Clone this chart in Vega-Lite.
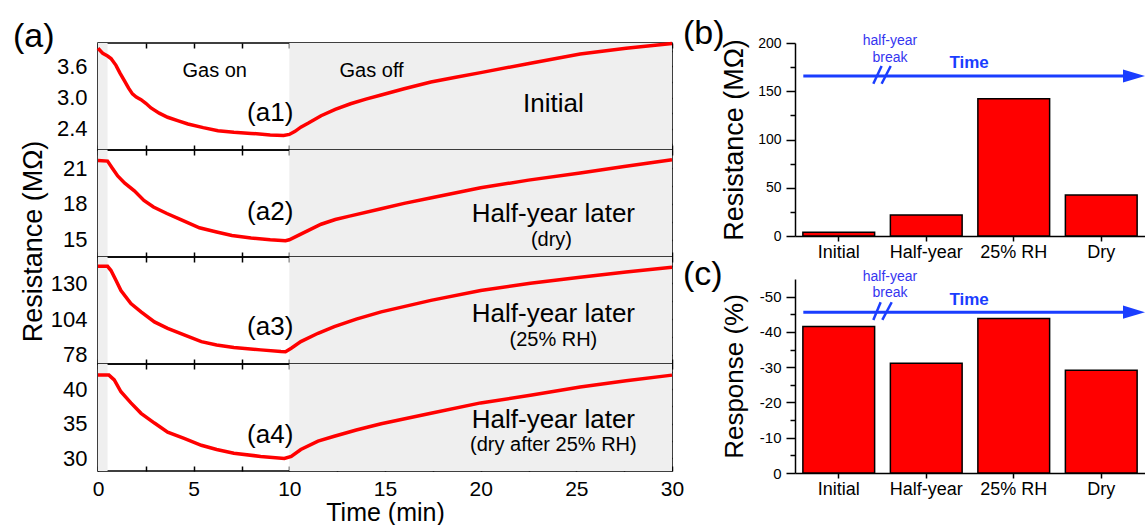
{
  "$schema": "https://vega.github.io/schema/vega-lite/v6.json",
  "background": "white",
  "padding": {"left": 12, "top": 17, "right": 0, "bottom": 0},
  "config": {
    "font": "Liberation Sans",
    "view": {"stroke": "black", "strokeWidth": 1.5},
    "axis": {"grid": false, "labelOverlap": false, "labelColor": "black", "tickColor": "black", "domainColor": "black", "titleColor": "black", "labelFont": "Liberation Sans", "titleFont": "Liberation Sans", "titleFontWeight": "normal", "tickWidth": 1.5, "domainWidth": 1.5},
    "title": {"font": "Liberation Sans", "fontWeight": "normal", "color": "black"}
  },
  "datasets": {
    "curves": [
      {"panel": "a1", "t": 0, "r": 3.95}, {"panel": "a1", "t": 0.25, "r": 3.85}, {"panel": "a1", "t": 0.5, "r": 3.8}, {"panel": "a1", "t": 0.68, "r": 3.75}, {"panel": "a1", "t": 0.94, "r": 3.62}, {"panel": "a1", "t": 1.15, "r": 3.47}, {"panel": "a1", "t": 1.37, "r": 3.33}, {"panel": "a1", "t": 1.6, "r": 3.18}, {"panel": "a1", "t": 1.8, "r": 3.07}, {"panel": "a1", "t": 2.0, "r": 3.01}, {"panel": "a1", "t": 2.25, "r": 2.96}, {"panel": "a1", "t": 2.5, "r": 2.89}, {"panel": "a1", "t": 2.77, "r": 2.8}, {"panel": "a1", "t": 3.2, "r": 2.7}, {"panel": "a1", "t": 3.64, "r": 2.62}, {"panel": "a1", "t": 4.2, "r": 2.55}, {"panel": "a1", "t": 4.7, "r": 2.49}, {"panel": "a1", "t": 5.5, "r": 2.42}, {"panel": "a1", "t": 6.27, "r": 2.36}, {"panel": "a1", "t": 7.1, "r": 2.33}, {"panel": "a1", "t": 8.0, "r": 2.31}, {"panel": "a1", "t": 9.0, "r": 2.28}, {"panel": "a1", "t": 9.7, "r": 2.27}, {"panel": "a1", "t": 10.0, "r": 2.29}, {"panel": "a1", "t": 10.3, "r": 2.35}, {"panel": "a1", "t": 10.6, "r": 2.43}, {"panel": "a1", "t": 11.0, "r": 2.51}, {"panel": "a1", "t": 11.66, "r": 2.65}, {"panel": "a1", "t": 12.4, "r": 2.77}, {"panel": "a1", "t": 13.2, "r": 2.88}, {"panel": "a1", "t": 14.0, "r": 2.97}, {"panel": "a1", "t": 14.8, "r": 3.05}, {"panel": "a1", "t": 16.0, "r": 3.17}, {"panel": "a1", "t": 17.4, "r": 3.3}, {"panel": "a1", "t": 18.7, "r": 3.39}, {"panel": "a1", "t": 20.0, "r": 3.48}, {"panel": "a1", "t": 22.6, "r": 3.66}, {"panel": "a1", "t": 25.2, "r": 3.84}, {"panel": "a1", "t": 27.6, "r": 3.95}, {"panel": "a1", "t": 30.0, "r": 4.04},
      {"panel": "a2", "t": 0, "r": 21.65}, {"panel": "a2", "t": 0.5, "r": 21.6}, {"panel": "a2", "t": 0.75, "r": 21.0}, {"panel": "a2", "t": 1.03, "r": 20.35}, {"panel": "a2", "t": 1.4, "r": 19.75}, {"panel": "a2", "t": 1.9, "r": 19.1}, {"panel": "a2", "t": 2.4, "r": 18.3}, {"panel": "a2", "t": 2.9, "r": 17.75}, {"panel": "a2", "t": 3.6, "r": 17.2}, {"panel": "a2", "t": 4.3, "r": 16.7}, {"panel": "a2", "t": 5.3, "r": 16.0}, {"panel": "a2", "t": 6.2, "r": 15.65}, {"panel": "a2", "t": 7.0, "r": 15.35}, {"panel": "a2", "t": 8.0, "r": 15.15}, {"panel": "a2", "t": 9.0, "r": 15.0}, {"panel": "a2", "t": 9.8, "r": 14.92}, {"panel": "a2", "t": 10.0, "r": 15.0}, {"panel": "a2", "t": 10.6, "r": 15.47}, {"panel": "a2", "t": 11.66, "r": 16.3}, {"panel": "a2", "t": 12.4, "r": 16.7}, {"panel": "a2", "t": 13.2, "r": 17.0}, {"panel": "a2", "t": 14.8, "r": 17.6}, {"panel": "a2", "t": 16.0, "r": 18.05}, {"panel": "a2", "t": 17.5, "r": 18.55}, {"panel": "a2", "t": 20.0, "r": 19.36}, {"panel": "a2", "t": 22.5, "r": 20.0}, {"panel": "a2", "t": 25.2, "r": 20.6}, {"panel": "a2", "t": 27.5, "r": 21.15}, {"panel": "a2", "t": 30.0, "r": 21.72},
      {"panel": "a3", "t": 0, "r": 142.5}, {"panel": "a3", "t": 0.5, "r": 142.5}, {"panel": "a3", "t": 0.68, "r": 139.4}, {"panel": "a3", "t": 0.95, "r": 132}, {"panel": "a3", "t": 1.2, "r": 124.9}, {"panel": "a3", "t": 1.72, "r": 115.3}, {"panel": "a3", "t": 2.25, "r": 109.3}, {"panel": "a3", "t": 2.95, "r": 102}, {"panel": "a3", "t": 3.64, "r": 97.3}, {"panel": "a3", "t": 4.5, "r": 92.5}, {"panel": "a3", "t": 5.4, "r": 87.6}, {"panel": "a3", "t": 6.2, "r": 85.2}, {"panel": "a3", "t": 7.1, "r": 83.3}, {"panel": "a3", "t": 8.5, "r": 81.6}, {"panel": "a3", "t": 9.56, "r": 80.4}, {"panel": "a3", "t": 9.8, "r": 80.3}, {"panel": "a3", "t": 10.1, "r": 82.8}, {"panel": "a3", "t": 10.6, "r": 87.6}, {"panel": "a3", "t": 11.5, "r": 93.7}, {"panel": "a3", "t": 12.35, "r": 98.5}, {"panel": "a3", "t": 13.5, "r": 104}, {"panel": "a3", "t": 14.8, "r": 109.3}, {"panel": "a3", "t": 17.4, "r": 117.7}, {"panel": "a3", "t": 20.0, "r": 124.9}, {"panel": "a3", "t": 22.6, "r": 130.2}, {"panel": "a3", "t": 25.2, "r": 134.5}, {"panel": "a3", "t": 27.6, "r": 138.3}, {"panel": "a3", "t": 30.0, "r": 141.8},
      {"panel": "a4", "t": 0, "r": 42.0}, {"panel": "a4", "t": 0.57, "r": 42.0}, {"panel": "a4", "t": 0.85, "r": 41.3}, {"panel": "a4", "t": 1.2, "r": 39.6}, {"panel": "a4", "t": 1.72, "r": 38.0}, {"panel": "a4", "t": 2.25, "r": 36.5}, {"panel": "a4", "t": 2.95, "r": 35.1}, {"panel": "a4", "t": 3.64, "r": 33.8}, {"panel": "a4", "t": 4.5, "r": 32.9}, {"panel": "a4", "t": 5.4, "r": 31.9}, {"panel": "a4", "t": 6.2, "r": 31.3}, {"panel": "a4", "t": 7.1, "r": 30.75}, {"panel": "a4", "t": 8.5, "r": 30.3}, {"panel": "a4", "t": 9.74, "r": 30.0}, {"panel": "a4", "t": 10.1, "r": 30.3}, {"panel": "a4", "t": 10.6, "r": 31.3}, {"panel": "a4", "t": 11.5, "r": 32.5}, {"panel": "a4", "t": 12.35, "r": 33.2}, {"panel": "a4", "t": 13.5, "r": 34.1}, {"panel": "a4", "t": 14.8, "r": 35.0}, {"panel": "a4", "t": 17.4, "r": 36.5}, {"panel": "a4", "t": 20.0, "r": 38.0}, {"panel": "a4", "t": 22.6, "r": 39.1}, {"panel": "a4", "t": 25.2, "r": 40.3}, {"panel": "a4", "t": 27.6, "r": 41.2}, {"panel": "a4", "t": 30.0, "r": 42.0}
    ],
    "bands": [{"t0": 0, "t1": 0.5}, {"t0": 10, "t1": 30}],
    "bars": [
      {"cat": "Initial", "res": 3.8, "resp": -41.5},
      {"cat": "Half-year", "res": 21.8, "resp": -31.1},
      {"cat": "25% RH", "res": 142.3, "resp": -43.8},
      {"cat": "Dry", "res": 42.5, "resp": -29.1}
    ]
  },
  "spacing": -2,
  "hconcat": [
    {
      "spacing": 0,
      "bounds": "flush",
      "vconcat": [
        {
          "width": 574, "height": 107,
          "title": {"text": "(a)", "anchor": "start", "frame": "group", "fontSize": 34, "offset": 0, "dx": -85, "dy": 17},
          "layer": [
            {"data": {"name": "bands"}, "mark": {"type": "rect", "color": "#efefef"},
             "encoding": {"x": {"field": "t0", "type": "quantitative", "scale": {"domain": [0, 30], "nice": false}, "axis": {"orient": "top", "values": [0, 2.5, 5, 7.5, 10, 12.5, 15, 17.5, 20, 22.5, 25, 27.5, 30], "labels": false, "tickSize": -5, "domain": false, "title": null}}, "x2": {"field": "t1"}}},
            {"data": {"name": "curves"}, "transform": [{"filter": "datum.panel === 'a1'"}], "mark": {"type": "line", "color": "#ff0000", "strokeWidth": 3.5},
             "encoding": {"x": {"field": "t", "type": "quantitative", "scale": {"domain": [0, 30], "nice": false}, "axis": {"orient": "bottom", "values": [0, 2.5, 5, 7.5, 10, 12.5, 15, 17.5, 20, 22.5, 25, 27.5, 30], "labels": false, "tickSize": -5, "domain": false, "title": null}},
                          "y": {"field": "r", "type": "quantitative", "scale": {"domain": [1.99, 4.05], "nice": false, "zero": false}, "axis": {"orient": "left", "values": [2.1, 2.4, 2.7, 3.0, 3.3, 3.6, 3.9], "labelExpr": "indexof(['2.4','3.0','3.6'], format(datum.value, '.1f')) >= 0 ? format(datum.value, '.1f') : ''", "labelOverlap": false, "tickSize": -5, "domain": false, "title": null, "labelFontSize": 22, "labelPadding": 16}}}},
            {"data": {"values": [{"t": 9.0, "r": 2.7, "label": "(a1)"}, {"t": 23.8, "r": 2.88, "label": "Initial"}]}, "mark": {"type": "text", "fontSize": 26, "color": "black", "baseline": "middle"},
             "encoding": {"x": {"field": "t", "type": "quantitative", "axis": null}, "y": {"field": "r", "type": "quantitative", "scale": {"domain": [1.99, 4.05], "nice": false, "zero": false}, "axis": {"orient": "right", "values": [2.1, 2.4, 2.7, 3.0, 3.3, 3.6, 3.9], "labels": false, "tickSize": -5, "domain": false, "title": null}}, "text": {"field": "label"}}},
            {"data": {"values": [{"t": 6.1, "r": 3.52, "label": "Gas on"}, {"t": 14.3, "r": 3.52, "label": "Gas off"}]}, "mark": {"type": "text", "fontSize": 20, "color": "black", "baseline": "middle"},
             "encoding": {"x": {"field": "t", "type": "quantitative", "axis": null}, "y": {"field": "r", "type": "quantitative", "axis": null}, "text": {"field": "label"}}}
          ]
        },
        {
          "width": 574, "height": 107,
          "layer": [
            {"data": {"name": "bands"}, "mark": {"type": "rect", "color": "#efefef"},
             "encoding": {"x": {"field": "t0", "type": "quantitative", "scale": {"domain": [0, 30], "nice": false}, "axis": {"orient": "top", "values": [0, 2.5, 5, 7.5, 10, 12.5, 15, 17.5, 20, 22.5, 25, 27.5, 30], "labels": false, "tickSize": -5, "domain": false, "title": null}}, "x2": {"field": "t1"}}},
            {"data": {"name": "curves"}, "transform": [{"filter": "datum.panel === 'a2'"}], "mark": {"type": "line", "color": "#ff0000", "strokeWidth": 3.5},
             "encoding": {"x": {"field": "t", "type": "quantitative", "scale": {"domain": [0, 30], "nice": false}, "axis": {"orient": "bottom", "values": [0, 2.5, 5, 7.5, 10, 12.5, 15, 17.5, 20, 22.5, 25, 27.5, 30], "labels": false, "tickSize": -5, "domain": false, "title": null}},
                          "y": {"field": "r", "type": "quantitative", "scale": {"domain": [13.55, 22.53], "nice": false, "zero": false}, "axis": {"orient": "left", "values": [15, 16.5, 18, 19.5, 21], "labelExpr": "datum.value % 3 === 0 ? datum.label : ''", "labelOverlap": false, "tickSize": -5, "domain": false, "title": "Resistance (MΩ)", "titleFontSize": 27, "titleX": -51, "titleY": 91, "labelFontSize": 22, "labelPadding": 16}}}},
            {"data": {"values": [{"t": 9.0, "r": 17.33, "label": "(a2)"}, {"t": 23.8, "r": 17.17, "label": "Half-year later"}]}, "mark": {"type": "text", "fontSize": 26, "color": "black", "baseline": "middle"},
             "encoding": {"x": {"field": "t", "type": "quantitative", "axis": null}, "y": {"field": "r", "type": "quantitative", "scale": {"domain": [13.55, 22.53], "nice": false, "zero": false}, "axis": {"orient": "right", "values": [15, 16.5, 18, 19.5, 21], "labels": false, "tickSize": -5, "domain": false, "title": null}}, "text": {"field": "label"}}},
            {"data": {"values": [{"t": 23.7, "r": 15.0, "label": "(dry)"}]}, "mark": {"type": "text", "fontSize": 20, "color": "black", "baseline": "middle"},
             "encoding": {"x": {"field": "t", "type": "quantitative", "axis": null}, "y": {"field": "r", "type": "quantitative", "axis": null}, "text": {"field": "label"}}}
          ]
        },
        {
          "width": 574, "height": 107,
          "layer": [
            {"data": {"name": "bands"}, "mark": {"type": "rect", "color": "#efefef"},
             "encoding": {"x": {"field": "t0", "type": "quantitative", "scale": {"domain": [0, 30], "nice": false}, "axis": {"orient": "top", "values": [0, 2.5, 5, 7.5, 10, 12.5, 15, 17.5, 20, 22.5, 25, 27.5, 30], "labels": false, "tickSize": -5, "domain": false, "title": null}}, "x2": {"field": "t1"}}},
            {"data": {"name": "curves"}, "transform": [{"filter": "datum.panel === 'a3'"}], "mark": {"type": "line", "color": "#ff0000", "strokeWidth": 3.5},
             "encoding": {"x": {"field": "t", "type": "quantitative", "scale": {"domain": [0, 30], "nice": false}, "axis": {"orient": "bottom", "values": [0, 2.5, 5, 7.5, 10, 12.5, 15, 17.5, 20, 22.5, 25, 27.5, 30], "labels": false, "tickSize": -5, "domain": false, "title": null}},
                          "y": {"field": "r", "type": "quantitative", "scale": {"domain": [71.3, 149.3], "nice": false, "zero": false}, "axis": {"orient": "left", "values": [78, 91, 104, 117, 130, 143], "labelExpr": "datum.value % 26 === 0 ? datum.label : ''", "labelOverlap": false, "tickSize": -5, "domain": false, "title": null, "labelFontSize": 22, "labelPadding": 16}}}},
            {"data": {"values": [{"t": 9.0, "r": 98.4, "label": "(a3)"}, {"t": 23.8, "r": 108.1, "label": "Half-year later"}]}, "mark": {"type": "text", "fontSize": 26, "color": "black", "baseline": "middle"},
             "encoding": {"x": {"field": "t", "type": "quantitative", "axis": null}, "y": {"field": "r", "type": "quantitative", "scale": {"domain": [71.3, 149.3], "nice": false, "zero": false}, "axis": {"orient": "right", "values": [78, 91, 104, 117, 130, 143], "labels": false, "tickSize": -5, "domain": false, "title": null}}, "text": {"field": "label"}}},
            {"data": {"values": [{"t": 23.8, "r": 88.8, "label": "(25% RH)"}]}, "mark": {"type": "text", "fontSize": 20, "color": "black", "baseline": "middle"},
             "encoding": {"x": {"field": "t", "type": "quantitative", "axis": null}, "y": {"field": "r", "type": "quantitative", "axis": null}, "text": {"field": "label"}}}
          ]
        },
        {
          "width": 574, "height": 107,
          "layer": [
            {"data": {"name": "bands"}, "mark": {"type": "rect", "color": "#efefef"},
             "encoding": {"x": {"field": "t0", "type": "quantitative", "scale": {"domain": [0, 30], "nice": false}, "axis": {"orient": "top", "values": [0, 2.5, 5, 7.5, 10, 12.5, 15, 17.5, 20, 22.5, 25, 27.5, 30], "labels": false, "tickSize": -5, "domain": false, "title": null}}, "x2": {"field": "t1"}}},
            {"data": {"name": "curves"}, "transform": [{"filter": "datum.panel === 'a4'"}], "mark": {"type": "line", "color": "#ff0000", "strokeWidth": 3.5},
             "encoding": {"x": {"field": "t", "type": "quantitative", "scale": {"domain": [0, 30], "nice": false}, "axis": {"orient": "bottom", "values": [0, 2.5, 5, 7.5, 10, 12.5, 15, 17.5, 20, 22.5, 25, 27.5, 30], "labelExpr": "datum.value % 5 === 0 ? datum.label : ''", "labelOverlap": false, "labelFlush": false, "labelFontSize": 21, "labelPadding": 12, "tickSize": -5, "domain": false, "title": "Time (min)", "titleFontSize": 25, "titleY": 41, "titleBaseline": "middle"}},
                          "y": {"field": "r", "type": "quantitative", "scale": {"domain": [28.2, 43.6], "nice": false, "zero": false}, "axis": {"orient": "left", "values": [30, 32.5, 35, 37.5, 40, 42.5], "labelExpr": "datum.value % 5 === 0 ? datum.label : ''", "labelOverlap": false, "tickSize": -5, "domain": false, "title": null, "labelFontSize": 22, "labelPadding": 16}}}},
            {"data": {"values": [{"t": 9.0, "r": 33.4, "label": "(a4)"}, {"t": 23.8, "r": 35.6, "label": "Half-year later"}]}, "mark": {"type": "text", "fontSize": 26, "color": "black", "baseline": "middle"},
             "encoding": {"x": {"field": "t", "type": "quantitative", "axis": null}, "y": {"field": "r", "type": "quantitative", "scale": {"domain": [28.2, 43.6], "nice": false, "zero": false}, "axis": {"orient": "right", "values": [30, 32.5, 35, 37.5, 40, 42.5], "labels": false, "tickSize": -5, "domain": false, "title": null}}, "text": {"field": "label"}}},
            {"data": {"values": [{"t": 23.8, "r": 32.0, "label": "(dry after 25% RH)"}]}, "mark": {"type": "text", "fontSize": 20, "color": "black", "baseline": "middle"},
             "encoding": {"x": {"field": "t", "type": "quantitative", "axis": null}, "y": {"field": "r", "type": "quantitative", "axis": null}, "text": {"field": "label"}}}
          ]
        }
      ]
    },
    {
      "spacing": 43,
      "bounds": "flush",
      "vconcat": [
        {
          "width": 350, "height": 193,
          "view": {"stroke": null},
          "title": {"text": "(b)", "anchor": "start", "frame": "group", "fontSize": 34, "offset": 0, "dx": -112, "dy": 17},
          "resolve": {"scale": {"x": "independent"}, "axis": {"y": "independent"}},
          "layer": [
            {"data": {"name": "bars"}, "mark": {"type": "bar", "color": "#ff0000", "stroke": "black", "strokeWidth": 1.5},
             "encoding": {"x": {"field": "cat", "type": "nominal", "sort": null, "scale": {"paddingInner": 0.18, "paddingOuter": 0.09}, "axis": {"labelAngle": 0, "labelFontSize": 18, "tickSize": 5, "labelPadding": 2, "title": null}},
                          "y": {"field": "res", "type": "quantitative", "scale": {"domain": [0, 200], "nice": false}, "axis": {"orient": "left", "values": [0, 25, 50, 75, 100, 125, 150, 175, 200], "labelExpr": "datum.value % 50 === 0 ? datum.label : ''", "labelOverlap": false, "labelFontSize": 14, "tickSize": {"condition": {"test": "datum.value % 50 === 0", "value": 9}, "value": 5}, "labelPadding": 5, "title": "Resistance (MΩ)", "titleFontSize": 27, "titleX": -47}}}},
            {"data": {"values": [{"x": 0.095, "res": 165.8}, {"x": 3.8, "res": 165.8}]}, "mark": {"type": "line", "color": "#1a3dff", "strokeWidth": 3},
             "encoding": {"x": {"field": "x", "type": "quantitative", "scale": {"domain": [0, 4], "nice": false, "zero": false}, "axis": null}, "y": {"field": "res", "type": "quantitative", "scale": {"domain": [0, 200], "nice": false}, "axis": null}}},
            {"data": {"values": [{"x": 3.874, "res": 165.8}]}, "mark": {"type": "point", "filled": true, "shape": "M-1,-0.6L1,0L-1,0.6Z", "size": 484, "color": "#1a3dff", "opacity": 1},
             "encoding": {"x": {"field": "x", "type": "quantitative", "scale": {"domain": [0, 4], "nice": false, "zero": false}, "axis": null}, "y": {"field": "res", "type": "quantitative", "scale": {"domain": [0, 200], "nice": false}, "axis": null}}},
            {"data": {"values": [{"x": 0.895, "res": 157.8, "x2": 0.99, "res2": 176.2}, {"x": 0.99, "res": 157.8, "x2": 1.094, "res2": 176.2}]}, "mark": {"type": "rule", "color": "#1a3dff", "strokeWidth": 2.5},
             "encoding": {"x": {"field": "x", "type": "quantitative", "scale": {"domain": [0, 4], "nice": false, "zero": false}, "axis": null}, "x2": {"field": "x2"}, "y": {"field": "res", "type": "quantitative", "scale": {"domain": [0, 200], "nice": false}, "axis": null}, "y2": {"field": "res2"}}},
            {"data": {"values": [{"x": 1.086, "res": 202, "label": "half-year"}, {"x": 1.086, "res": 184.8, "label": "break"}]}, "mark": {"type": "text", "fontSize": 14, "color": "#3535f0", "baseline": "middle"},
             "encoding": {"x": {"field": "x", "type": "quantitative", "scale": {"domain": [0, 4], "nice": false, "zero": false}, "axis": null}, "y": {"field": "res", "type": "quantitative", "scale": {"domain": [0, 200], "nice": false}, "axis": null}, "text": {"field": "label"}}},
            {"data": {"values": [{"x": 1.99, "res": 179.3, "label": "Time"}]}, "mark": {"type": "text", "fontSize": 17, "fontWeight": "bold", "color": "#1a3dff", "baseline": "middle"},
             "encoding": {"x": {"field": "x", "type": "quantitative", "scale": {"domain": [0, 4], "nice": false, "zero": false}, "axis": null}, "y": {"field": "res", "type": "quantitative", "scale": {"domain": [0, 200], "nice": false}, "axis": null}, "text": {"field": "label"}}}
          ]
        },
        {
          "width": 350, "height": 194,
          "view": {"stroke": null},
          "title": {"text": "(c)", "anchor": "start", "frame": "group", "fontSize": 34, "offset": 0, "dx": -112, "dy": 22},
          "resolve": {"scale": {"x": "independent"}, "axis": {"y": "independent"}},
          "layer": [
            {"data": {"name": "bars"}, "mark": {"type": "bar", "color": "#ff0000", "stroke": "black", "strokeWidth": 1.5},
             "encoding": {"x": {"field": "cat", "type": "nominal", "sort": null, "scale": {"paddingInner": 0.18, "paddingOuter": 0.09}, "axis": {"labelAngle": 0, "labelFontSize": 18, "tickSize": 5, "labelPadding": 2, "title": null}},
                          "y": {"field": "resp", "type": "quantitative", "scale": {"domain": [0, -55], "nice": false, "zero": false}, "axis": {"orient": "left", "values": [0, -5, -10, -15, -20, -25, -30, -35, -40, -45, -50], "labelExpr": "abs(datum.value) % 10 == 0 ? '' + datum.value : ''", "labelOverlap": false, "labelFontSize": 15, "tickSize": {"condition": {"test": "abs(datum.value) % 10 == 0", "value": 9}, "value": 5}, "labelPadding": 5, "title": "Response (%)", "titleFontSize": 26, "titleX": -48}}}},
            {"data": {"values": [{"x": 0.095, "resp": -45.6}, {"x": 3.8, "resp": -45.6}]}, "mark": {"type": "line", "color": "#1a3dff", "strokeWidth": 3},
             "encoding": {"x": {"field": "x", "type": "quantitative", "scale": {"domain": [0, 4], "nice": false, "zero": false}, "axis": null}, "y": {"field": "resp", "type": "quantitative", "scale": {"domain": [0, -55], "nice": false, "zero": false}, "axis": null}}},
            {"data": {"values": [{"x": 3.874, "resp": -45.6}]}, "mark": {"type": "point", "filled": true, "shape": "M-1,-0.6L1,0L-1,0.6Z", "size": 484, "color": "#1a3dff", "opacity": 1},
             "encoding": {"x": {"field": "x", "type": "quantitative", "scale": {"domain": [0, 4], "nice": false, "zero": false}, "axis": null}, "y": {"field": "resp", "type": "quantitative", "scale": {"domain": [0, -55], "nice": false, "zero": false}, "axis": null}}},
            {"data": {"values": [{"x": 0.895, "resp": -43.4, "x2": 0.979, "resp2": -48.4}, {"x": 0.998, "resp": -43.4, "x2": 1.105, "resp2": -48.4}]}, "mark": {"type": "rule", "color": "#1a3dff", "strokeWidth": 2.5},
             "encoding": {"x": {"field": "x", "type": "quantitative", "scale": {"domain": [0, 4], "nice": false, "zero": false}, "axis": null}, "x2": {"field": "x2"}, "y": {"field": "resp", "type": "quantitative", "scale": {"domain": [0, -55], "nice": false, "zero": false}, "axis": null}, "y2": {"field": "resp2"}}},
            {"data": {"values": [{"x": 1.086, "resp": -55.5, "label": "half-year"}, {"x": 1.086, "resp": -50.9, "label": "break"}]}, "mark": {"type": "text", "fontSize": 14, "color": "#3535f0", "baseline": "middle"},
             "encoding": {"x": {"field": "x", "type": "quantitative", "scale": {"domain": [0, 4], "nice": false, "zero": false}, "axis": null}, "y": {"field": "resp", "type": "quantitative", "scale": {"domain": [0, -55], "nice": false, "zero": false}, "axis": null}, "text": {"field": "label"}}},
            {"data": {"values": [{"x": 1.99, "resp": -49.1, "label": "Time"}]}, "mark": {"type": "text", "fontSize": 17, "fontWeight": "bold", "color": "#1a3dff", "baseline": "middle"},
             "encoding": {"x": {"field": "x", "type": "quantitative", "scale": {"domain": [0, 4], "nice": false, "zero": false}, "axis": null}, "y": {"field": "resp", "type": "quantitative", "scale": {"domain": [0, -55], "nice": false, "zero": false}, "axis": null}, "text": {"field": "label"}}}
          ]
        }
      ]
    }
  ]
}
